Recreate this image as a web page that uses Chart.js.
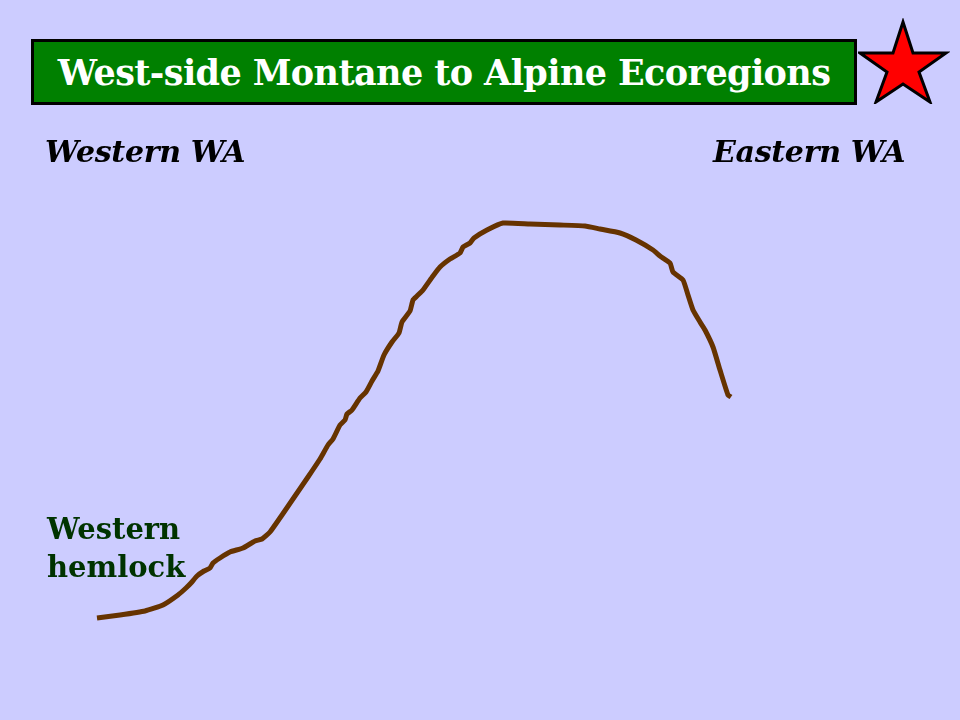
<!DOCTYPE html>
<html lang="en">
<head>
    <meta charset="UTF-8">
    <title>West-side Montane to Alpine Ecoregions</title>
    <script src="https://cdn.jsdelivr.net/npm/chart.js"></script>
    <style>
        body { margin: 0; background: #ccccff; }
        #slide { position: relative; width: 960px; height: 720px; background: #ccccff; overflow: hidden; }
        #profile { position: absolute; left: 0; top: 0; }
        .title-box {
            position: absolute; left: 31px; top: 39px; width: 820px; height: 60px;
            background: #008000; border: 3px solid #000;
            color: #fff; font: bold 35px "DejaVu Serif", serif;
            display: flex; align-items: center; justify-content: center; letter-spacing: -0.6px;
        }
        .side { position: absolute; top: 134px; font: italic bold 30px "DejaVu Serif", serif; color: #000; letter-spacing: -0.3px; }
        .species { position: absolute; left: 47px; top: 510px; font: bold 29px/38px "DejaVu Serif", serif; color: #003300; }
        #star { position: absolute; left: 858px; top: 18px; }
    </style>
</head>
<body>
<div id="slide">
    <canvas id="profile" width="960" height="720"></canvas>
    <div class="title-box">West-side Montane to Alpine Ecoregions</div>
    <svg id="star" width="92" height="86" viewBox="0 0 92 86">
        <polygon points="45,4 55,35 88,35 61,54 72,84 45,66 18,84 29,54 2,35 35,35"
                 fill="#ff0000" stroke="#000" stroke-width="3" stroke-linejoin="miter"/>
    </svg>
    <div class="side" style="left:45px;">Western WA</div>
    <div class="side" style="left:713px;">Eastern WA</div>
    <div class="species">Western<br>hemlock</div>
</div>

<script>
    // profil (x = position ouest -> est, y = hauteur relative)
    const positions = [97, 120, 145, 163, 178, 186, 191, 197, 204, 210, 213, 220, 230, 243, 255, 262, 270, 282, 295,
        308, 320, 328, 333, 340, 345, 347, 352, 360, 366, 372, 378, 384, 392, 399, 402, 410, 413, 417, 423, 433, 440,
        450, 460, 463, 470, 474, 487, 503, 530, 560, 585, 600, 620, 636, 653, 660, 670, 673, 683, 688, 693, 700,
        705, 713, 720, 728, 731];
    const heights = [102, 105, 109, 115, 125, 132, 137, 144, 149, 152, 157, 162, 168, 172, 179, 181, 188, 205, 224,
        243, 261, 275, 281, 295, 300, 306, 310, 322, 328, 339, 349, 365, 378, 387, 398, 409, 420, 424, 430, 444, 453,
        461, 467, 473, 477, 482, 490, 497, 496, 495, 494, 491, 487, 480, 470, 464, 457, 448, 440, 425, 410, 398,
        390, 373, 350, 325, 323];

    const points = positions.map((x, i) => ({ x: x, y: heights[i] }));

    new Chart(document.getElementById('profile').getContext('2d'), {
        type: 'line',
        data: {
            datasets: [{
                data: points,
                borderColor: '#663300',
                borderWidth: 5,
                pointRadius: 0,
                tension: 0.15,
                borderCapStyle: 'butt',
                borderJoinStyle: 'round',
                fill: false
            }]
        },
        options: {
            responsive: false,
            animation: false,
            layout: { padding: 0 },
            scales: {
                x: { type: 'linear', min: 0, max: 960, display: false },
                y: { type: 'linear', min: 0, max: 720, display: false }
            },
            plugins: {
                legend: { display: false },
                tooltip: { enabled: false }
            }
        }
    });
</script>
</body>
</html>
